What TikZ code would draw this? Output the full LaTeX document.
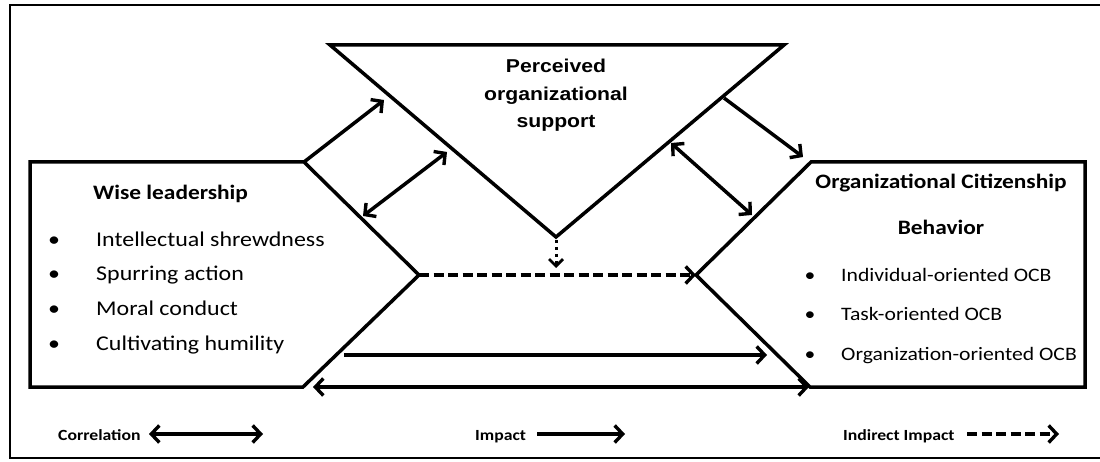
\documentclass[tikz,border=0pt]{standalone}
\usepackage{fontspec}
\setmainfont{Carlito}[FakeStretch=1.14]
\newfontfamily\headfont{Liberation Sans}[FakeStretch=1.14]
\usetikzlibrary{arrows.meta}

\begin{document}
\begin{tikzpicture}[x=1pt, y=-1pt,
    >={Straight Barb[length=8pt, width=17pt, line width=3.4pt]},
    frame/.style={line width=2.5pt},
    outline/.style={line width=3.5pt, line join=miter},
    link/.style={line width=3.5pt, ->},
    corr/.style={line width=3.5pt, <->},
    indirect/.style={line width=3.5pt, ->, dash pattern=on 10pt off 4.5pt},
    hint/.style={line width=3pt, -{Straight Barb[length=7pt, width=14pt, line width=2.8pt]}, dash pattern=on 3pt off 4pt},
    title/.style={anchor=base, inner sep=0pt, font=\fontsize{20.5}{24}\selectfont\bfseries},
    head/.style={anchor=base, inner sep=0pt, font=\headfont\fontsize{18.6}{22}\selectfont\bfseries},
    item/.style={anchor=base west, inner sep=0pt, font=\fontsize{21}{25}\selectfont},
    subitem/.style={anchor=base west, inner sep=0pt, font=\fontsize{19}{23}\selectfont},
    dot/.style={anchor=base, inner sep=0pt},
    key/.style={anchor=base west, inner sep=0pt, font=\fontsize{15.5}{18}\selectfont\bfseries}]
\useasboundingbox (0,0) rectangle (1100,462);

% outer frame (its right side runs off the page)
\draw[frame] (1104,5) -- (10,5) -- (10,458) -- (1104,458);

% ---- shape vertices ----
% Wise leadership
\coordinate (L1) at (30,162);  \coordinate (L2) at (304,162);
\coordinate (Lp) at (419,275);
\coordinate (L3) at (303,387); \coordinate (L4) at (30,387);
% Organizational citizenship behavior
\coordinate (Rp) at (696,275);
\coordinate (R1) at (811,162); \coordinate (R2) at (1085,162);
\coordinate (R3) at (1085,387); \coordinate (R4) at (810,387);
% Perceived organizational support
\coordinate (T1) at (330,45); \coordinate (T2) at (784,45);
\coordinate (Ta) at (556,237);

\draw[outline] (L1) -- (L2) -- (Lp) -- (L3) -- (L4) -- cycle;
\draw[outline] (Rp) -- (R1) -- (R2) -- (R3) -- (R4) -- cycle;
\draw[outline] (T1) -- (T2) -- (Ta) -- cycle;

% ---- texts ----
\node[head] (pos1) at (556,73)  {Perceived};
\node[head] (pos2) at (556,101) {organizational};
\node[head] (pos3) at (556,128) {support};

\node[title, anchor=base west] (wl) at (93,200) {Wise leadership};
\foreach \t/\yy [count=\i] in {Intellectual shrewdness/247, Spurring action/281,
                               Moral conduct/316, Cultivating humility/350}{
  \node[dot, font=\fontsize{21}{25}\selectfont] (wb\i) at (54,\yy) {•};
  \node[item] (wi\i) at (96,\yy) {\t};
}

\node[title] (ocb1) at (941,188.5) {Organizational Citizenship};
\node[title] (ocb2) at (941,235)   {Behavior};
\foreach \t/\yy [count=\i] in {Individual-oriented OCB/282, Task-oriented OCB/320,
                               Organization-oriented OCB/360}{
  \node[dot, font=\fontsize{19}{23}\selectfont] (ob\i) at (810,\yy) {•};
  \node[subitem] (oi\i) at (841,\yy) {\t};
}

% ---- connectors ----
\coordinate (a1e) at (384,100);
\coordinate (a2s) at (363,216); \coordinate (a2e) at (447,152);
\coordinate (a3s) at (724,98);  \coordinate (a3e) at (803,157);
\coordinate (a4s) at (671,143); \coordinate (a4e) at (752,215);
\coordinate (dte) at (556,268);
\coordinate (ims) at (344,355); \coordinate (ime) at (767,355);
\coordinate (cbs) at (313,387); \coordinate (cbe) at (809,387);

\draw[link] (L2) -- (a1e);
\draw[corr] (a2s) -- (a2e);
\draw[link] (a3s) -- (a3e);
\draw[corr] (a4s) -- (a4e);
\draw[hint] ([yshift=-3pt]Ta) -- (dte);
\draw[indirect] (Lp) -- (Rp);
\draw[link] (ims) -- (ime);
\draw[corr] (cbs) -- (cbe);

% ---- legend ----
\node[key] (k1) at (58,440)  {Correlation};
\node[key] (k2) at (475,440) {Impact};
\node[key] (k3) at (843,440) {Indirect Impact};
\coordinate (k1s) at (149,434); \coordinate (k1e) at (263,434);
\coordinate (k2s) at (537,434); \coordinate (k2e) at (625,434);
\coordinate (k3s) at (967,434); \coordinate (k3e) at (1059,434);
\draw[corr] (k1s) -- (k1e);
\draw[link] (k2s) -- (k2e);
\draw[indirect] (k3s) -- (k3e);
\end{tikzpicture}
\end{document}
